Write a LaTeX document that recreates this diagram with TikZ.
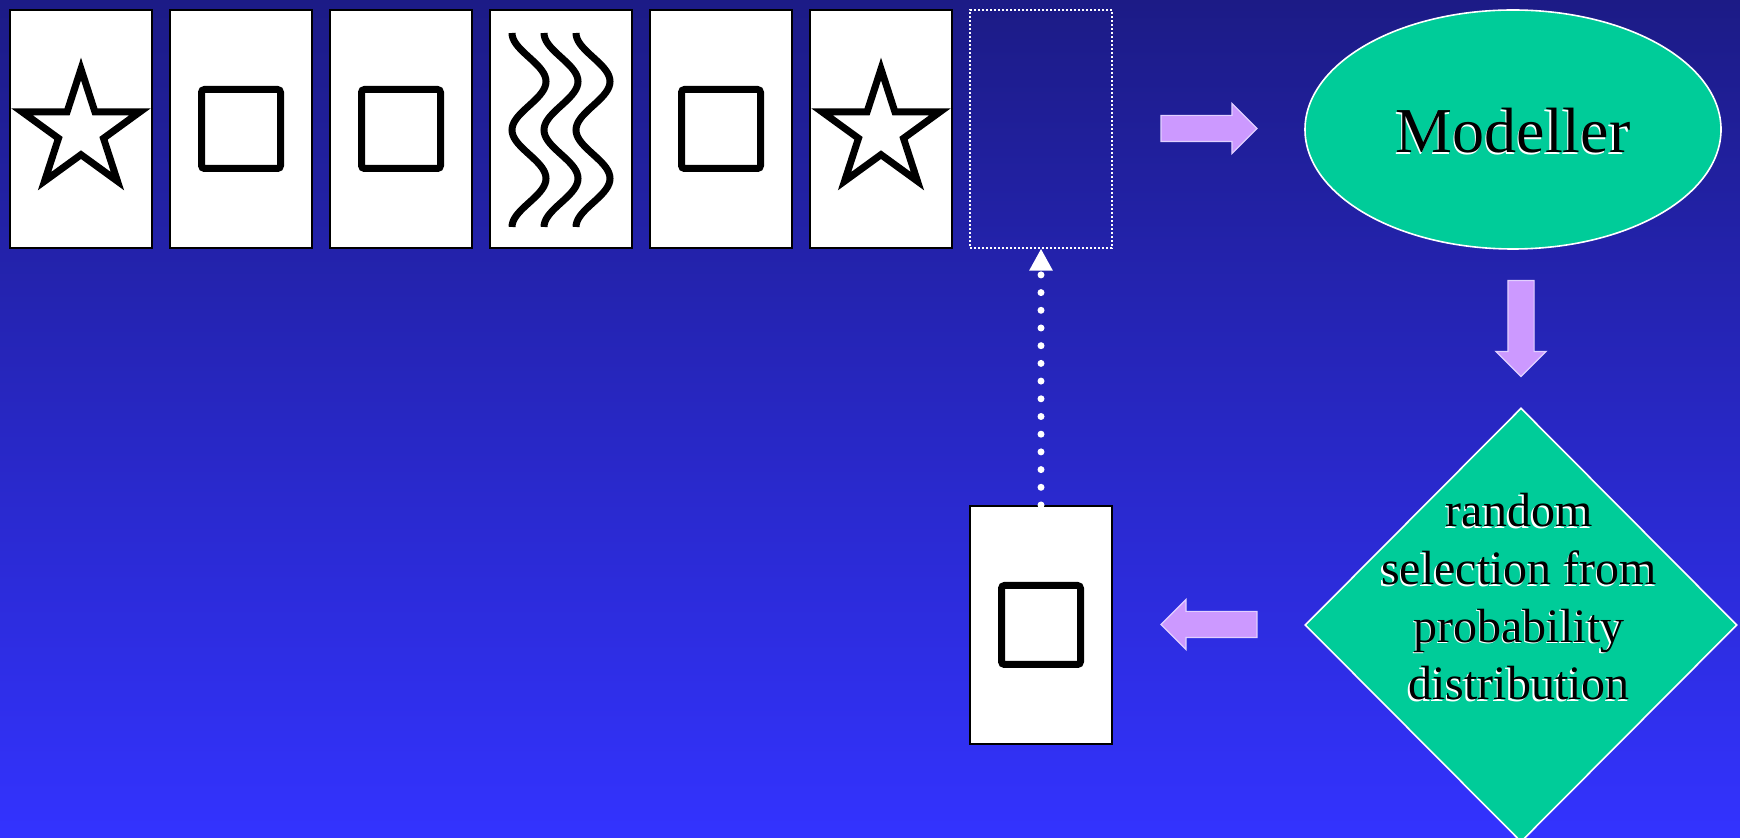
\documentclass[tikz,border=0pt]{standalone}
\usepackage{fontspec}
\setmainfont{Liberation Serif}
\usetikzlibrary{shapes.geometric,shapes.arrows,arrows.meta}
\definecolor{NightBlue}{RGB}{28,27,134}
\definecolor{MidBlue}{RGB}{44,42,222}
\definecolor{BrightBlue}{RGB}{51,51,255}
\definecolor{SeaGreen}{RGB}{0,204,153}
\definecolor{Lilac}{RGB}{204,153,255}
\definecolor{LilacEdge}{RGB}{226,208,255}
\tikzstyle{none}=[inner sep=0pt]
\tikzstyle{card}=[rectangle,draw=black,fill=white,line width=1pt,minimum width=71pt,minimum height=119pt,inner sep=0pt]
\tikzstyle{empty card}=[rectangle,draw=white,line width=0.6pt,dash pattern=on 1pt off 1pt,minimum width=71pt,minimum height=119pt,inner sep=0pt]
\tikzstyle{box glyph}=[rectangle,draw=black,line width=3.5pt,minimum size=39.5pt,rounded corners=1.5pt,inner sep=0pt]
\tikzstyle{star glyph}=[star,star points=5,star point ratio=2.618,draw=black,line width=3.5pt,minimum size=62pt,inner sep=0pt]
\tikzstyle{wave}=[-,draw=black,line width=3.5pt]
\tikzstyle{block arrow}=[single arrow,fill=Lilac,draw=LilacEdge,line width=0.6pt,minimum height=48pt,inner xsep=0pt,inner ysep=6.25pt,single arrow head extend=6pt,single arrow head indent=0pt]
\tikzstyle{block arrow down}=[style=block arrow,shape border rotate=270,inner xsep=6.25pt,inner ysep=0pt]
\tikzstyle{model}=[ellipse,fill=SeaGreen,draw=white,line width=0.8pt,minimum width=208pt,minimum height=119.5pt,inner sep=0pt]
\tikzstyle{choice}=[diamond,fill=SeaGreen,draw=white,line width=0.8pt,minimum width=216pt,minimum height=217pt,inner sep=0pt]
\tikzstyle{dots}=[draw=white,line width=3.5pt,line cap=round,dash pattern=on 0pt off 8.85pt,-{Triangle[width=11pt,length=11pt]}]
\tikzstyle{big text}=[inner sep=0pt,anchor=base,font=\fontsize{32}{38}\selectfont]
\tikzstyle{small text}=[inner sep=0pt,align=center,font=\fontsize{24}{28.85}\selectfont]
\tikzstyle{ghost}=[text=white,xshift=-0.8pt,yshift=-0.8pt]

\begin{document}
\begin{tikzpicture}[x=0.5pt,y=-0.5pt]
  \useasboundingbox (0,0) rectangle (1740,838);
  \shade [top color=NightBlue, middle color=MidBlue, bottom color=BrightBlue] (0,0) rectangle (1740,838);
  \node [style=card] (0) at (81, 129) {};
  \node [style=card] (1) at (241, 129) {};
  \node [style=card] (2) at (401, 129) {};
  \node [style=card] (3) at (561, 129) {};
  \node [style=card] (4) at (721, 129) {};
  \node [style=card] (5) at (881, 129) {};
  \node [style=empty card] (6) at (1041, 129) {};
  \node [style=card] (7) at (1041, 625) {};
  \node [style=star glyph] (8) at (81, 131) {};
  \node [style=box glyph] (9) at (241, 129) {};
  \node [style=box glyph] (10) at (401, 129) {};
  \node [style=box glyph] (11) at (721, 129) {};
  \node [style=star glyph] (12) at (881, 131) {};
  \node [style=box glyph] (13) at (1041, 625) {};
  \node [style=model] (14) at (1513, 129.5) {};
  \node [style=choice] (15) at (1521, 625) {};
  \node [style=block arrow] (16) at (1202.5, 128.5) {};
  \node [style=block arrow down] (17) at (1521, 322) {};
  \node [style=block arrow, shape border rotate=180] (18) at (1215.5, 624.5) {};
  \node [style=big text, style=ghost] (19) at (1513, 153) {Modeller};
  \node [style=big text] (20) at (1513, 153) {Modeller};
  \node [style=small text, style=ghost] (21) at (1519, 597) {random\\selection from\\probability\\distribution};
  \node [style=small text] (22) at (1519, 597) {random\\selection from\\probability\\distribution};
  \draw [style=wave] plot [domain=0:720, samples=73, smooth] ({512+17*(1-cos(\x))}, {33+0.2694*\x});
  \draw [style=wave] plot [domain=0:720, samples=73, smooth] ({544+17*(1-cos(\x))}, {33+0.2694*\x});
  \draw [style=wave] plot [domain=0:720, samples=73, smooth] ({576+17*(1-cos(\x))}, {33+0.2694*\x});
  \draw [style=dots] (7.north) to (6.south);
\end{tikzpicture}
\end{document}
